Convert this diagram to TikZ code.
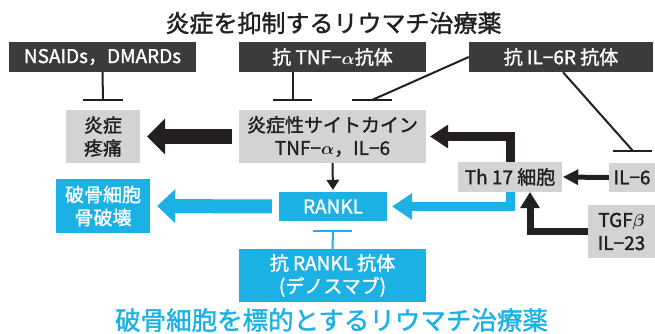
\documentclass[tikz,border=0pt]{standalone}
\usepackage{amsmath}
\usepackage{fontspec}
\setmainfont{Noto Sans CJK JP}[FakeBold=1.5]
\usetikzlibrary{arrows.meta}
\definecolor{dk}{HTML}{3B3B3B}
\definecolor{gr}{HTML}{D2D3D5}
\definecolor{bl}{HTML}{1BB1E4}
\definecolor{ink}{HTML}{231F20}
\newcommand\boxfont{\fontsize{19pt}{23pt}\selectfont}
\tikzset{
  darkbox/.style={fill=dk, text=white, inner sep=0pt, minimum height=30pt, font=\boxfont},
  graybox/.style={fill=gr, text=ink, inner sep=0pt, align=center, font=\boxfont},
  bluebox/.style={fill=bl, text=white, inner sep=0pt, align=center, font=\boxfont},
  inhib/.style={draw=ink, line width=2pt},
  inhibblue/.style={draw=bl, line width=2pt},
  bigarrow/.style={line width=15pt, -{Triangle[width=36pt,length=18pt,line width=0pt]}, shorten >=7pt, shorten <=7pt},
}
\begin{document}
\begin{tikzpicture}[x=1pt,y=-1pt]
\useasboundingbox (0,0) rectangle (655,333);
% titles
\node[text=ink, font=\fontsize{24pt}{28pt}\selectfont] (t1) at (333.5,23) {炎症を抑制するリウマチ治療薬};
\node[text=bl, font=\fontsize{25.5pt}{30pt}\selectfont] (t2) at (331.5,320) {破骨細胞を標的とするリウマチ治療薬};
% drug boxes
\node[darkbox, minimum width=187pt] (nsaid) at (102.5,57) {NSAIDs，DMARDs};
\node[darkbox, minimum width=187pt] (tnfab) at (332.5,57) {抗 TNF−$\boldsymbol{\alpha}$抗体};
\node[darkbox, minimum width=184pt] (il6r) at (561,57) {抗 IL−6R 抗体};
% gray boxes
\node[graybox, minimum width=74pt, minimum height=53pt] (infl) at (103,136.5) {炎症\\疼痛};
\node[graybox, minimum width=187pt, minimum height=53pt] (cyto) at (332.5,136.5) {炎症性サイトカイン\\TNF−$\boldsymbol{\alpha}$，IL−6};
\node[graybox, minimum width=104pt, minimum height=30pt] (th17) at (510,177) {Th 17 細胞};
\node[graybox, minimum width=46pt, minimum height=29pt] (il6) at (632,177.5) {IL−6};
\node[graybox, minimum width=67pt, minimum height=53pt] (tgf) at (621.5,231.5) {TGF$\boldsymbol{\beta}$\\IL−23};
% blue boxes
\node[bluebox, minimum width=94pt, minimum height=54pt] (bone) at (103,206) {破骨細胞\\骨破壊};
\node[bluebox, minimum width=108pt, minimum height=29pt] (rankl) at (333,206.5) {RANKL};
\node[bluebox, minimum width=187pt, minimum height=53pt] (arankl) at (332.5,275.5) {抗 RANKL 抗体\\(デノスマブ)};
% inhibition bars
\coordinate (b1) at (103,100);
\coordinate (b2) at (293,100);
\coordinate (b3) at (372,100);
\coordinate (b4) at (633,151);
\coordinate (b5) at (333,231);
\draw[inhib] (nsaid.south) -- (b1);
\draw[inhib] ([xshift=-20pt]b1) -- ([xshift=20pt]b1);
\draw[inhib] (tnfab.south -| b2) -- (b2);
\draw[inhib] ([xshift=-20pt]b2) -- ([xshift=19pt]b2);
\draw[inhib] (il6r.west) -- (b3);
\draw[inhib] ([xshift=-20pt]b3) -- ([xshift=20pt]b3);
\draw[inhib] ([xshift=2pt]il6r.south) -- (b4);
\draw[inhib] ([xshift=-20pt]b4) -- ([xshift=19pt]b4);
\draw[inhibblue] (arankl.north) -- (b5);
\draw[inhibblue] ([xshift=-20pt]b5) -- ([xshift=19pt]b5);
% arrows
\draw[bigarrow, draw=ink, fill=ink] (cyto.west) -- (infl.east);
\draw[bigarrow, draw=bl, fill=bl, line width=14pt, -{Triangle[width=34pt,length=18pt,line width=0pt]}] (rankl.west) -- (bone.east);
\draw[draw=ink, line width=2pt, -{Triangle[width=13pt,length=10pt,line width=0pt]}, shorten >=2pt] (cyto.south) -- (rankl.north);
\draw[draw=ink, line width=9pt, -{Triangle[width=24pt,length=18pt,line width=0pt]}, shorten >=4pt] (th17.north) |- (cyto.east);
\draw[draw=bl, line width=9pt, -{Triangle[width=27pt,length=20pt,line width=0pt]}, shorten >=5pt] (th17.south) |- (rankl.east);
\draw[draw=ink, line width=5pt, -{Triangle[width=16pt,length=15pt,line width=0pt]}, shorten >=1pt] (il6.west) -- (th17.east);
\draw[draw=ink, line width=7pt, -{Triangle[width=20pt,length=16pt,line width=0pt]}] (tgf.west) -| ([xshift=20pt]th17.south);
\end{tikzpicture}
\end{document}
